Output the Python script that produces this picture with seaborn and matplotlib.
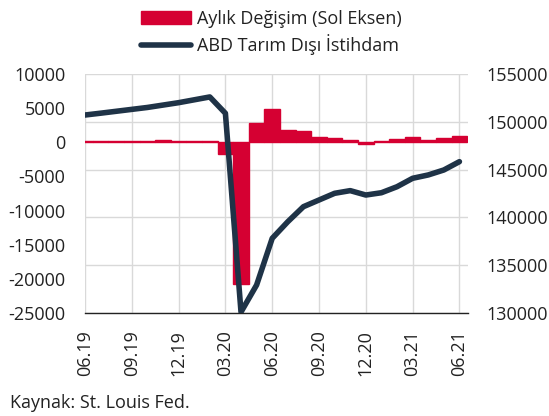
import matplotlib
matplotlib.use("Agg")
import matplotlib.pyplot as plt
import seaborn as sns
import numpy as np
import pandas as pd
from matplotlib.patches import Patch
from matplotlib.lines import Line2D

months = ["06.19", "07.19", "08.19", "09.19", "10.19", "11.19", "12.19", "01.20", "02.20",
          "03.20", "04.20", "05.20", "06.20", "07.20", "08.20", "09.20", "10.20", "11.20",
          "12.20", "01.21", "02.21", "03.21", "04.21", "05.21", "06.21"]
monthly_change = [178, 166, 219, 180, 136, 266, 184, 214, 251,
                  -1683, -20787, 2833, 4846, 1726, 1583, 716, 680, 264,
                  -306, 233, 536, 785, 269, 614, 850]
employment = [150710, 150900, 151100, 151300, 151500, 151750, 152000, 152300, 152600,
              150890, 130100, 132930, 137810, 139550, 141120, 141820, 142520, 142800,
              142340, 142580, 143210, 144090, 144440, 144960, 145830]
tick_labels = ["06.19", "09.19", "12.19", "03.20", "06.20", "09.20", "12.20", "03.21", "06.21"]
left_ticks = [10000, 5000, 0, -5000, -10000, -15000, -20000, -25000]
right_ticks = [155000, 150000, 145000, 140000, 135000, 130000]

RED = "#d50032"
NAVY = "#1f3347"
TXT = "#222222"

sns.set_theme(style="white")
plt.rcParams["font.family"] = ["Open Sans", "DejaVu Sans"]
plt.rcParams["font.size"] = 13

df = pd.DataFrame({"month": months, "change": monthly_change, "emp": employment,
                   "pos": np.arange(len(months))})

fig = plt.figure(figsize=(5.49, 4.16), dpi=100)
ax1 = fig.add_axes([85/549, 1-313/416, (468-85)/549, (313-74)/416])

sns.barplot(data=df, x="month", y="change", color=RED, width=1.0, saturation=1,
            edgecolor=RED, linewidth=1.0, ax=ax1, zorder=2)
ax1.set_xlim(0, 24.55)
ax1.set_ylim(-25000, 10000)
ax1.set_yticks(left_ticks)
ax1.set_yticklabels([str(v) for v in left_ticks])
tick_pos = [months.index(t) for t in tick_labels]
ax1.set_xticks(tick_pos)
ax1.set_xticklabels(tick_labels, rotation=90)
ax1.set_xlabel("")
ax1.set_ylabel("")

# horizontal grid aligned with right axis ticks
for r in right_ticks:
    lv = -25000 + (r - 130000) * 35000 / 25000
    ax1.axhline(lv, color="#d9d9d9", lw=1.0, zorder=0)
for p in tick_pos:
    ax1.axvline(p, color="#d9d9d9", lw=1.0, zorder=0)

for s in ["top", "left", "right"]:
    ax1.spines[s].set_visible(False)
ax1.spines["bottom"].set_color("#222222")
ax1.spines["bottom"].set_linewidth(1.0)
ax1.tick_params(axis="x", length=0, colors=TXT, labelsize=13, pad=12)
ax1.tick_params(axis="y", length=0, colors=TXT, labelsize=13, pad=14)

ax2 = ax1.twinx()
sns.lineplot(data=df, x="pos", y="emp", color=NAVY, lw=4, ax=ax2, zorder=3)
ax2.set_ylim(130000, 155000)
ax2.set_yticks(right_ticks)
ax2.set_yticklabels([str(v) for v in right_ticks])
ax2.set_xlim(0, 24.55)
ax2.set_ylabel("")
ax2.set_xlabel("")
for s in ["top", "left", "right", "bottom"]:
    ax2.spines[s].set_visible(False)
ax2.tick_params(axis="y", length=0, colors=TXT, labelsize=13, pad=13)
ax2.grid(False)

handles = [Patch(facecolor=RED, edgecolor=RED), Line2D([0], [0], color=NAVY, lw=4, solid_capstyle="round")]
fig.legend(handles, ["Aylık Değişim (Sol Eksen)", "ABD Tarım Dışı İstihdam"],
           loc="upper center", bbox_to_anchor=(0.494, 1.015), ncol=1, frameon=False,
           fontsize=13, handlelength=2.8, handletextpad=0.3, labelspacing=0.35,
           labelcolor=TXT)

fig.text(10/549, 1-403/416, "Kaynak: St. Louis Fed.", fontsize=13, color=TXT, va="center", ha="left")

fig.savefig("out.png", dpi=100)
